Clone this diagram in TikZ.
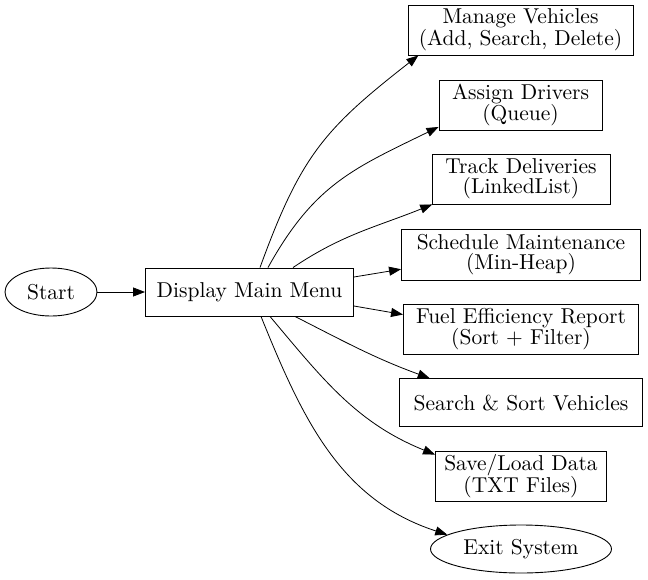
\documentclass[tikz,border=0pt]{standalone}
\usepackage{fontspec}
\setmainfont{lmroman10-regular.otf}
\usepackage{tikz}
\usetikzlibrary{arrows.meta,shapes.geometric}

\begin{document}
\begin{tikzpicture}[
  x=1pt, y=1pt,
  every node/.style={font=\fontsize{21.5}{20}\selectfont, align=center, inner sep=0pt},
  menubox/.style={draw, rectangle, line width=0.9pt},
  endpoint/.style={draw, ellipse, line width=0.9pt},
  arrow/.style={-{Triangle[length=12pt,width=9pt]}, line width=0.8pt}
]
\useasboundingbox (0,0) rectangle (648,-579);

\node[endpoint, minimum width=92pt, minimum height=48pt] (start) at (51,-292) {Start};
\node[menubox, minimum width=208pt, minimum height=48pt] (menu) at (249.5,-292) {Display Main Menu};

\node[menubox, minimum width=225pt, minimum height=50pt] (vehicles) at (520.5,-30) {Manage Vehicles\\(Add, Search, Delete)};
\node[menubox, minimum width=163pt, minimum height=50pt] (drivers) at (520.5,-105) {Assign Drivers\\(Queue)};
\node[menubox, minimum width=178pt, minimum height=50pt] (deliveries) at (521,-179) {Track Deliveries\\(LinkedList)};
\node[menubox, minimum width=239pt, minimum height=51pt] (maintenance) at (521,-254.5) {Schedule Maintenance\\(Min-Heap)};
\node[menubox, minimum width=235pt, minimum height=50pt] (fuel) at (521,-329) {Fuel Efficiency Report\\(Sort + Filter)};
\node[menubox, minimum width=243pt, minimum height=48pt] (search) at (521,-402.7) {Search \& Sort Vehicles};
\node[menubox, minimum width=171pt, minimum height=50pt] (saveload) at (521,-476) {Save/Load Data\\(TXT Files)};
\node[endpoint, minimum width=181pt, minimum height=48pt] (exit) at (521,-549) {Exit System};

\draw[arrow] (start) -- (menu);
\draw[arrow] ([xshift=10.5pt]menu.north) to[out=70,in=218,looseness=1.15] (vehicles.194);
\draw[arrow] ([xshift=18.5pt]menu.north) to[out=61,in=206,looseness=1.1] (drivers.195);
\draw[arrow] ([xshift=43.5pt]menu.north) to[out=34,in=202] (deliveries.196);
\draw[arrow] ([yshift=15pt]menu.east) -- (maintenance.187);
\draw[arrow] ([yshift=-14pt]menu.east) -- (fuel.173);
\draw[arrow] ([xshift=45.5pt]menu.south) to[out=-27,in=160] (search.165);
\draw[arrow] ([xshift=20.5pt]menu.south) to[out=-50,in=158] (saveload.166);
\draw[arrow] ([xshift=11.5pt]menu.south) to[out=-68,in=162] (exit.169);
\end{tikzpicture}
\end{document}
